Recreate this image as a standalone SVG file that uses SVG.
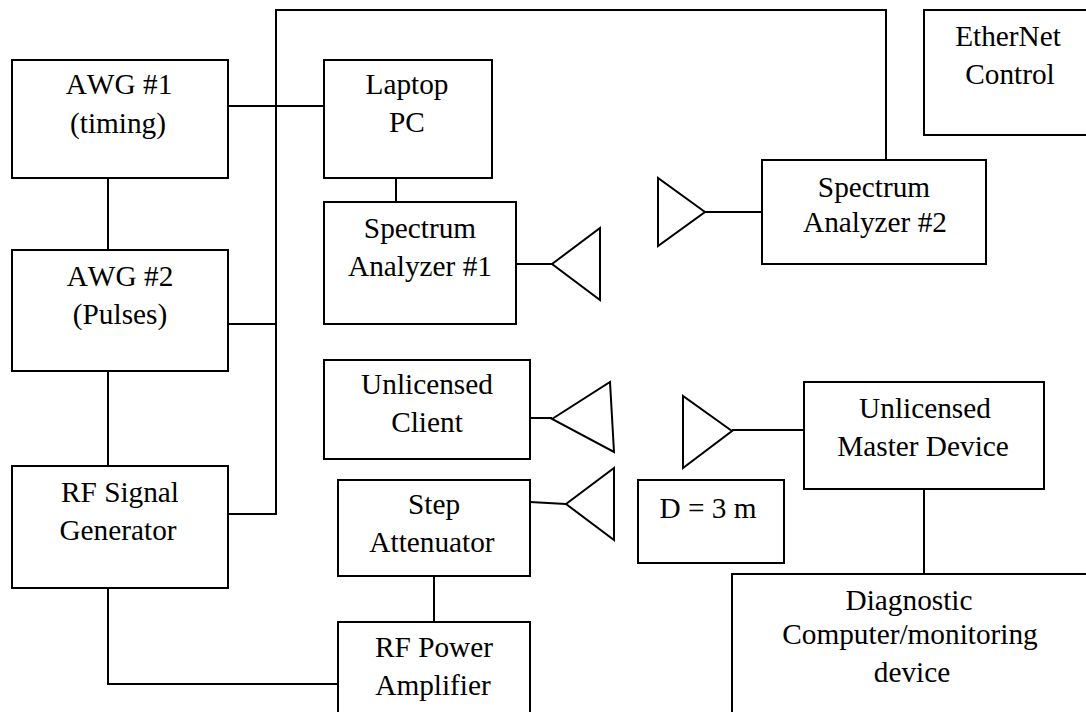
<svg xmlns="http://www.w3.org/2000/svg" width="1086" height="712" viewBox="0 0 1086 712">
<style>
.n{fill:#fff;stroke:#000;stroke-width:2}
.c{fill:none;stroke:#000;stroke-width:2}
text{font-family:"Liberation Serif","Times New Roman",serif;font-size:29.3px;font-kerning:none;fill:#000;text-anchor:middle}
</style>
<defs><clipPath id="cut"><rect x="40" y="470" width="138" height="50"/></clipPath></defs>
<rect width="1086" height="712" fill="#fff"/>
<g id="connectors">
<path class="c" d="M108 178V250M108 371V466M108 588V684H338M228 106H324M228 324H276M228 514H276V10H886V160M396 178V202M516 264H552M705 212H762M530 418H552M732 430H804M530 502L566 504M434 576V622M924 489V574"/>
</g>
<g id="awg1"><rect class="n" x="12" y="60" width="216" height="118"/><text x="119" y="94">AWG #1</text><text x="118" y="133">(timing)</text></g>
<g id="awg2"><rect class="n" x="12" y="250" width="216" height="121"/><text x="120" y="286">AWG #2</text><text x="120" y="324">(Pulses)</text></g>
<g id="rfgen"><rect class="n" x="12" y="466" width="216" height="122"/><text x="120" y="502" clip-path="url(#cut)">RF Signal</text><text x="118" y="540">Generator</text></g>
<g id="laptop"><rect class="n" x="324" y="60" width="168" height="118"/><text x="407" y="94">Laptop</text><text x="407" y="132">PC</text></g>
<g id="sa1"><rect class="n" x="324" y="202" width="192" height="122"/><text x="420" y="238">Spectrum</text><text x="420" y="276">Analyzer #1</text></g>
<g id="client"><rect class="n" x="324" y="360" width="206" height="99"/><text x="427" y="394">Unlicensed</text><text x="427" y="432">Client</text></g>
<g id="atten"><rect class="n" x="338" y="480" width="192" height="96"/><text x="434" y="514">Step</text><text x="432" y="552">Attenuator</text></g>
<g id="amp"><rect class="n" x="338" y="622" width="192" height="100"/><text x="434" y="657">RF Power</text><text x="433" y="695">Amplifier</text></g>
<g id="sa2"><rect class="n" x="762" y="160" width="224" height="104"/><text x="874" y="197">Spectrum</text><text x="875" y="232">Analyzer #2</text></g>
<g id="ether"><rect class="n" x="924" y="10" width="172" height="125"/><text x="1008" y="46">EtherNet</text><text x="1010" y="84">Control</text></g>
<g id="master"><rect class="n" x="804" y="382" width="240" height="107"/><text x="925" y="418">Unlicensed</text><text x="923" y="456">Master Device</text></g>
<g id="dist"><rect class="n" x="638" y="480" width="146" height="83"/><text x="708" y="518">D = 3 m</text></g>
<g id="diag"><rect class="n" x="732" y="574" width="366" height="150"/><text x="909" y="610">Diagnostic</text><text x="910" y="644">Computer/monitoring</text><text x="912" y="682">device</text></g>
<g id="ant1"><path class="n" d="M552 264L600 228V300Z"/></g>
<g id="ant2"><path class="n" d="M705 212L658 178V246Z"/></g>
<g id="ant3"><path class="n" d="M552 419L610 382L614 452Z"/></g>
<g id="ant4"><path class="n" d="M732 431L683 396V468Z"/></g>
<g id="ant5"><path class="n" d="M566 504L614 468V540Z"/></g>
</svg>
